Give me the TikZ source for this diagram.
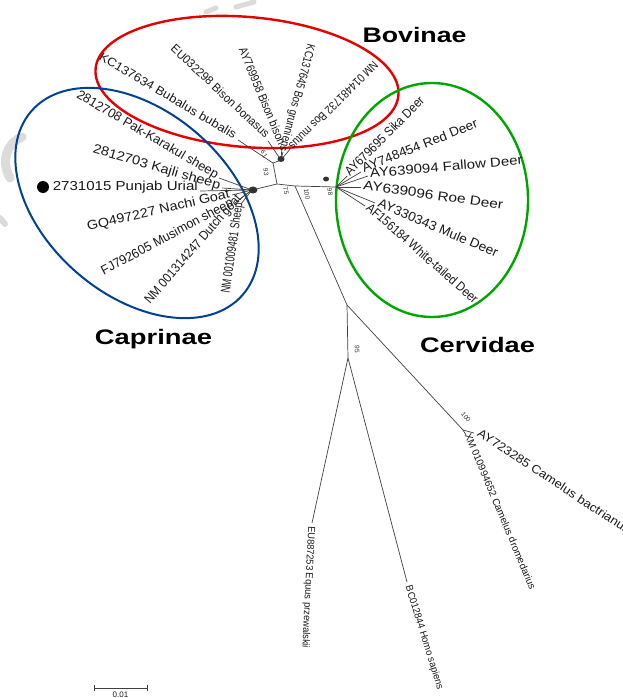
\documentclass[tikz,border=0pt]{standalone}
\usepackage{fontspec}
\setmainfont{Liberation Sans}
\newcommand\fitw[2]{\resizebox{#1pt}{\height}{#2}}
\begin{document}
\begin{tikzpicture}[x=1pt,y=-1pt,
  br/.style={draw=black!75, line width=0.7pt},
  lab/.style={inner sep=0pt, text=black!90},
  capl/.style={lab, font=\fontsize{13}{13}\selectfont, anchor=mid east},
  bovl/.style={lab, font=\fontsize{12}{12}\selectfont, anchor=mid east},
  cerl/.style={lab, font=\fontsize{13}{13}\selectfont, anchor=mid west},
  outl/.style={lab, font=\fontsize{10}{10}\selectfont, anchor=mid west},
  bs/.style={inner sep=0pt, text=black!80, font=\fontsize{6.5}{6.5}\selectfont},
  title/.style={inner sep=0pt, anchor=base, font=\fontsize{21}{21}\selectfont\bfseries},
  blob/.style={fill=black!80},
  wmark/.style={draw=gray!28, line width=9pt, line cap=round},
]
\useasboundingbox (0,0) rectangle (622,698);

% faint watermark remnants
\draw[wmark] (22,137) .. controls (8,142) and (0,160) .. (10,178);
\draw[wmark, line width=6pt] (0,218) -- (5,224);
\draw[wmark, line width=5pt] (206,12) -- (216,8);
\draw[wmark, line width=5pt] (236,7) -- (254,2);

% group ellipses
\draw[red!90!black, line width=2.4pt, rotate around={-5:(247,82)}] (247,82) ellipse (152 and 65);
\draw[blue!45!black!75!cyan, line width=2pt, rotate around={-41:(137,203)}] (137,203) ellipse (140 and 92);
\draw[green!65!black, line width=2.4pt] (432,200) ellipse (96 and 117);

% internal nodes
\coordinate (R) at (277,184);
\coordinate (Bov) at (273,163);
\coordinate (BovIn) at (281,160);
\coordinate (Cap) at (252,190);
\coordinate (J) at (295,186);
\coordinate (Cer) at (336,187);
\coordinate (Out) at (347,305);
\coordinate (O2) at (348,358);
\coordinate (Cam) at (463,430);

% tips
\coordinate (tBub) at (238,140);
\coordinate (tBbo) at (268,141);
\coordinate (tBbi) at (282,147);
\coordinate (tBgr) at (283,152);
\coordinate (tBmu) at (291,148);
\coordinate (tPak) at (219,178);
\coordinate (tKaj) at (222,188);
\coordinate (tUri) at (200,191);
\coordinate (tNac) at (232,195);
\coordinate (tMus) at (235,203);
\coordinate (tDut) at (241,198);
\coordinate (tShe) at (241,204);
\coordinate (tSik) at (347,176);
\coordinate (tRed) at (361,172);
\coordinate (tFal) at (368,176);
\coordinate (tRoe) at (361,187);
\coordinate (tMul) at (375,203);
\coordinate (tWhi) at (365,206);
\coordinate (tEqu) at (312,523);
\coordinate (tHom) at (407,582);
\coordinate (tCB) at (474,433);
\coordinate (tCD) at (466,435);

% branches
\draw[br] (Cap) -- (R) -- (J) -- (Cer);
\draw[br] (R) -- (Bov) -- (BovIn);
\draw[br] (Bov) -- (tBub);
\foreach \t in {tBbo,tBbi,tBgr,tBmu} \draw[br] (BovIn) -- (\t);
\foreach \t in {tPak,tKaj,tUri,tNac,tMus,tDut,tShe} \draw[br] (Cap) -- (\t);
\foreach \t in {tSik,tRed,tFal,tRoe,tMul,tWhi} \draw[br] (Cer) -- (\t);
\draw[br] (J) -- (Out) -- (O2);
\draw[br] (O2) -- (tEqu);
\draw[br] (O2) -- (tHom);
\draw[br] (Out) -- (Cam);
\draw[br] (Cam) -- (tCB);
\draw[br] (Cam) -- (tCD);

% overlapping bootstrap clutter
\fill[blob] (253,190) ellipse (4.5 and 3.5);
\fill[blob] (281,159) ellipse (3.5 and 3);
\fill[blob] (326,179) ellipse (3 and 2.5);

% bootstrap values
\node[bs, rotate=-60] (b61) at (264,154) {61};
\node[bs, rotate=-85] (b93) at (266,172) {93};
\node[bs, rotate=-80] (b75) at (286,191) {75};
\node[bs, rotate=-80] (b100a) at (307,194) {100};
\node[bs, rotate=-80] (b98) at (330,192) {98};
\node[bs, rotate=-90] (b95) at (357,349) {95};
\node[bs, rotate=-50] (b100b) at (466,417) {100};

% Bovinae labels
\node[bovl, rotate=-30.6] (lBub) at (235,137) {\fitw{157}{KC137634 Bubalus bubalis}};
\node[bovl, rotate=-43.1] (lBbo) at (267,137) {\fitw{130}{EU032298 Bison bonasus}};
\node[bovl, rotate=-67.4] (lBbi) at (281,145) {\fitw{104}{AY769958 Bison bison}};
\node[bovl, rotate=-104.8] (lBgr) at (282,151) {\fitw{110}{KC137645 Bos grunniens}};
\node[bovl, rotate=-135] (lBmu) at (290,147) {\fitw{120}{NM 014481732 Bos mutus}};

% Caprinae labels
\node[capl, rotate=-30.4] (lPak) at (217,177) {\fitw{162}{2812708 Pak-Karakul sheep}};
\node[capl, rotate=-16.2] (lKaj) at (220,187) {\fitw{132}{2812703 Kajli sheep}};
\node[capl] (lUri) at (198,188) {\fitw{145}{2731015 Punjab Urial}};
\node[capl, rotate=13.1] (lNac) at (230,195) {\fitw{146}{GQ497227 Nachi Goat}};
\node[capl, rotate=28.3] (lMus) at (233,203) {\fitw{148}{FJ792605 Musimon sheep}};
\node[capl, rotate=49] (lDut) at (240,197) {\fitw{140}{NM 001314247 Dutch goat}};
\node[capl, rotate=81.8] (lShe) at (240,203) {\fitw{91}{NM 001009481 Sheep}};
\node[circle, fill=black, inner sep=0pt, minimum size=12pt] (dot) at (43,187) {};

% Cervidae labels
\node[cerl, rotate=45] (lSik) at (348,175) {\fitw{106}{AY679695 Sika Deer}};
\node[cerl, rotate=21.5] (lRed) at (363,170) {\fitw{123}{AY748454 Red Deer}};
\node[cerl, rotate=4.9] (lFal) at (370,175) {\fitw{153}{AY639094 Fallow Deer}};
\node[cerl, rotate=-8.1] (lRoe) at (363,187) {\fitw{141}{AY639096 Roe Deer}};
\node[cerl, rotate=-23.2] (lMul) at (378,204) {\fitw{129}{AY330343 Mule Deer}};
\node[cerl, rotate=-41.3] (lWhi) at (367,207) {\fitw{144}{AF156184 White-tailed Deer}};

% Outgroup labels
\node[outl, rotate=-92.8] (lEqu) at (311,526) {\fitw{122}{EU887253 Equus przewalskii}};
\node[outl, rotate=-72.7] (lHom) at (408,586) {\fitw{108}{BC012844 Homo sapiens}};
\node[outl, font=\fontsize{12}{12}\selectfont, rotate=-33.4] (lCB) at (478,433) {\fitw{180}{AY723285 Camelus bactrianus}};
\node[outl, rotate=-67.2] (lCD) at (467,434) {\fitw{168}{XM 010994652 Camelus dromedarius}};

% group titles
\node[title] (tBovinae) at (414.5,43) {\resizebox{104pt}{\height}{Bovinae}};
\node[title] (tCaprinae) at (153.5,344) {\resizebox{117pt}{\height}{Caprinae}};
\node[title] (tCervidae) at (477.5,352) {\resizebox{115pt}{\height}{Cervidae}};

% scale bar
\coordinate (sbL) at (94,688);
\coordinate (sbR) at (147,688);
\draw[black!75, line width=1pt] (sbL) -- (sbR);
\draw[black!75, line width=0.8pt] ([yshift=-3pt]sbL) -- ([yshift=3pt]sbL);
\draw[black!75, line width=0.8pt] ([yshift=-3pt]sbR) -- ([yshift=3pt]sbR);
\node[lab, anchor=north, font=\fontsize{8}{8}\selectfont] (sbT) at (120.5,692) {0.01};
\end{tikzpicture}
\end{document}
